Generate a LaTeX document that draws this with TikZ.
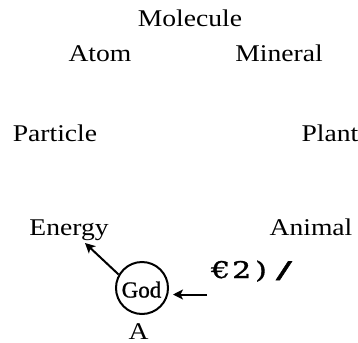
\documentclass[tikz,border=0pt]{standalone}
\usepackage{fontspec}
\setmainfont{Liberation Serif}[FakeStretch=1.15]
\newfontfamily\godfont{Liberation Serif}[FakeBold=1]
\newfontfamily\eurofont{DejaVu Serif}[FakeStretch=1.3,FakeBold=1.5]
\usetikzlibrary{arrows.meta}
\tikzset{
  lbl/.style={anchor=base, inner sep=0pt, font=\fontsize{24bp}{28bp}\selectfont},
  conn/.style={line width=2bp, -{Stealth[length=10bp,width=10bp,inset=2.5bp]}}
}
\begin{document}
\begin{tikzpicture}[x=1bp,y=-1bp]
\useasboundingbox (0,0) rectangle (358,343);
\node[lbl] (molecule) at (190,26.5) {Molecule};
\node[lbl] (atom) at (100,61.5) {Atom};
\node[lbl] (mineral) at (279,61.5) {Mineral};
\node[lbl] (particle) at (55,141.5) {Particle};
\node[lbl] (plant) at (330,141.5) {Plant};
\node[lbl] (energy) at (69,235.5) {Energy};
\node[lbl] (animal) at (311,235) {Animal};
\node[anchor=base west, inner sep=0pt, font=\eurofont\fontsize{23bp}{26bp}\selectfont] (euro) at (211,278) {€\hspace{2bp}2\hspace{4bp})\hspace{9bp}\scalebox{1.6}[1]{/}};
\node[draw, circle, line width=2bp, minimum size=52bp, inner sep=0pt] (god) at (142,288) {};
\node[anchor=base, inner sep=0pt, font=\godfont\fontsize{23bp}{26bp}\selectfont] (godtext) at (141.5,297.5) {God};
\node[lbl] (a) at (138.5,339) {A};
\coordinate (etip) at (85,243);
\coordinate (gtail) at (207,294.5);
\draw[conn] (god.150) -- (etip);
\draw[conn] (gtail) -- ([xshift=4bp]god.east |- gtail);
\end{tikzpicture}
\end{document}
